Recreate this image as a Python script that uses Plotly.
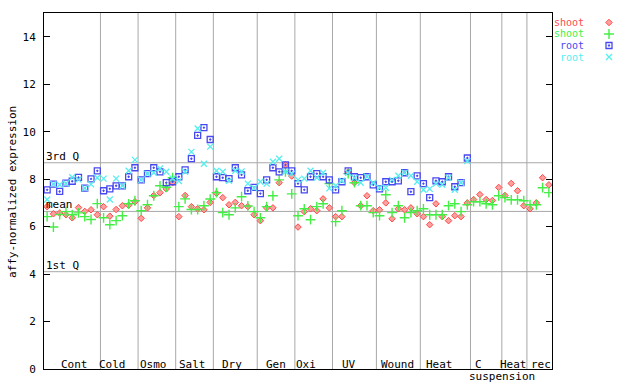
import plotly.graph_objects as go

# ---------------- data ----------------
groups = ["Cont", "Cold", "Osmo", "Salt", "Dry", "Gen", "Oxi", "UV", "Wound", "Heat", "C", "Heat", "rec"]
group_sizes = [9, 6, 6, 6, 7, 6, 6, 7, 7, 8, 5, 4, 4]
sub_label = "suspension"

shoot_red = [
    6.84, 6.54, 6.57, 6.50, 6.37, 6.80, 6.64, 6.71, 6.50,      # Cont
    6.84, 6.44, 6.72, 6.88, 6.90, 7.05,                        # Cold
    6.35, 6.79, 7.31, 7.43, 7.59, 7.85,                        # Osmo
    6.42, 7.31, 6.84, 6.75, 6.71, 7.02,                        # Salt
    7.40, 7.22, 6.92, 7.02, 6.88, 6.84, 6.50,                  # Dry
    6.25, 6.79, 6.79, 7.85, 8.60, 8.13,                        # Gen
    5.98, 6.63, 6.75, 6.67, 7.17, 6.79,                        # Oxi
    6.42, 6.42, 8.31, 7.85, 6.88, 7.30, 6.67,                  # UV
    6.71, 7.00, 6.33, 6.75, 6.71, 6.79, 6.54,                  # Wound
    6.42, 6.08, 6.96, 6.42, 6.25, 6.46, 6.42, 7.00,            # Heat
    7.14, 7.35, 7.14, 7.10, 7.65,                              # C
    7.31, 7.82, 7.51, 6.88,                                    # Heat
    6.75, 7.00, 8.06, 7.76,                                    # rec
]
shoot_green = [
    6.42, 5.98, 6.51, 6.63, 6.50, 6.58, 6.42, 6.30, 6.97,
    6.37, 6.08, 6.25, 6.46, 6.96, 7.09,
    6.67, 6.92, 7.30, 7.72, 7.66, 8.06,
    6.84, 7.17, 6.72, 6.72, 6.88, 7.16,
    7.43, 6.59, 6.50, 6.79, 7.26, 6.87, 6.63,
    6.37, 6.84, 7.30, 7.97, 8.31, 7.38,
    6.46, 6.75, 6.29, 6.84, 6.96, 7.81,
    6.21, 6.67, 8.23, 7.85, 6.88, 6.88, 6.59,
    6.46, 7.34, 6.59, 6.88, 6.37, 6.59, 6.67,
    6.75, 6.50, 6.50, 6.50, 6.88, 6.96, 6.63, 6.92,
    7.05, 7.05, 6.96, 6.92, 7.30,
    7.22, 7.13, 7.13, 7.09,
    6.92, 6.92, 7.64, 7.43,
]
root_blue = [
    7.55, 7.79, 7.48, 7.83, 7.91, 8.07, 7.62, 8.01, 8.35,
    7.51, 7.59, 7.72, 7.72, 8.10, 8.48,
    7.97, 8.23, 8.48, 8.31, 7.85, 7.89,
    8.10, 8.39, 8.86, 9.84, 10.17, 9.67,
    8.10, 8.06, 8.02, 8.48, 8.18, 7.51, 7.65,
    7.39, 7.97, 8.48, 8.31, 8.60, 8.35,
    7.81, 7.55, 8.10, 8.23, 8.10, 7.97,
    7.55, 7.89, 8.35, 8.10, 8.06, 8.10, 7.76,
    7.59, 7.89, 7.89, 7.93, 8.27, 7.47, 8.14,
    7.81, 7.22, 7.93, 7.89, 8.10, 7.68, 7.85, 8.89,
]
root_cyan = [
    7.14, 7.79, 7.76, 7.82, 8.08, 7.98, 7.62, 7.78, 8.06,
    8.02, 7.14, 8.02, 7.72, 8.35, 8.81,
    7.97, 8.23, 8.27, 8.45, 8.31, 8.03,
    7.92, 8.31, 9.15, 10.13, 8.65, 9.37,
    8.35, 8.31, 7.93, 8.35, 8.32, 7.81, 7.63,
    7.89, 7.81, 8.73, 8.86, 8.31, 8.22,
    7.97, 8.02, 8.35, 8.06, 8.27, 7.61,
    7.72, 7.93, 8.27, 8.06, 7.85, 8.10, 7.85,
    7.64, 7.64, 7.97, 8.14, 8.27, 8.14, 7.89,
    7.55, 7.59, 7.81, 7.76, 8.06, 7.55, 7.85, 8.76,
]
stat_names = ["3rd Q", "mean", "1st Q"]
stat_values = [8.69, 6.64, 4.10]
legend_names = ["shoot", "shoot", "root", "root"]
y_ticks = [0, 2, 4, 6, 8, 10, 12, 14]

# ---------------- layout helpers ----------------
W, H = 640, 384
L, R, T, B = 44, 552, 13, 369
n_total = sum(group_sizes)
XMIN, XMAX = 0.5, n_total + 0.5
YMIN, YMAX = 0, 15
FONT = "DejaVu Sans Mono"

label_x = [5.3, 11.5, 17.95, 24.1, 30.5, 37.5, 42.35, 49.2, 56.8, 63.5, 69.7, 75.3, 79.8]
sub_label_x = 73.6

C_RED, C_GREEN, C_BLUE, C_CYAN = "#ff4a4a", "#44ee44", "#4848f0", "#55eeee"
GRID = "#a8a8a8"

styles = [
    dict(symbol="diamond", size=5, color="#ffa0a0", line=dict(color=C_RED, width=1)),
    dict(symbol="cross-thin-open", size=7, color=C_GREEN, line=dict(color=C_GREEN, width=1.4)),
    dict(symbol="square-open-dot", size=6, color=C_BLUE, line=dict(color=C_BLUE, width=1.3)),
    dict(symbol="x-thin-open", size=6, color=C_CYAN, line=dict(color=C_CYAN, width=1.3)),
]
text_colors = [C_RED, C_GREEN, C_BLUE, C_CYAN]

fig = go.Figure()
series = [shoot_red, shoot_green, root_blue, root_cyan]
for vals, st in zip(series, styles):
    fig.add_trace(go.Scatter(
        x=list(range(1, len(vals) + 1)), y=vals, mode="markers",
        marker=st, showlegend=False, hoverinfo="skip", xaxis="x", yaxis="y"))

# legend markers on pixel overlay axis
leg_y = [22.5, 34, 45.5, 57]
for i, st in enumerate(styles):
    fig.add_trace(go.Scatter(x=[609], y=[leg_y[i]], mode="markers", marker=st,
                             showlegend=False, hoverinfo="skip", xaxis="x2", yaxis="y2"))

shapes = []
cum = 0
for s in group_sizes[:-1]:
    cum += s
    shapes.append(dict(type="line", xref="x", yref="y", x0=cum + 0.5, x1=cum + 0.5,
                       y0=YMIN, y1=YMAX, line=dict(color=GRID, width=1), layer="below"))
for v in stat_values:
    shapes.append(dict(type="line", xref="x", yref="y", x0=XMIN, x1=XMAX, y0=v, y1=v,
                       line=dict(color=GRID, width=1), layer="below"))

ann = []
for name, v in zip(stat_names, stat_values):
    ann.append(dict(x=XMIN, y=v, xref="x", yref="y", text=name, showarrow=False,
                    xanchor="left", yanchor="bottom", yshift=-2,
                    font=dict(family=FONT, size=11, color="black")))
for g, lx in zip(groups, label_x):
    ann.append(dict(x=lx, y=1 - 364 / H, xref="x", yref="paper", text=g, showarrow=False,
                    xanchor="center", yanchor="middle",
                    font=dict(family=FONT, size=11, color="black")))
ann.append(dict(x=sub_label_x, y=1 - 376 / H, xref="x", yref="paper", text=sub_label,
                showarrow=False, xanchor="center", yanchor="middle",
                font=dict(family=FONT, size=11, color="black")))
ann.append(dict(x=12 / W, y=1 - 192 / H, xref="paper", yref="paper",
                text="affy-normalized expression", showarrow=False, textangle=-90,
                xanchor="center", yanchor="middle",
                font=dict(family=FONT, size=11, color="black")))
for i, (nm, col) in enumerate(zip(legend_names, text_colors)):
    ann.append(dict(x=586 / W, y=1 - leg_y[i] / H, xref="paper", yref="paper", text=nm,
                    showarrow=False, xanchor="right", yanchor="middle",
                    font=dict(family=FONT, size=10, color=col)))

fig.update_layout(
    width=W, height=H, margin=dict(l=0, r=0, t=0, b=0),
    paper_bgcolor="white", plot_bgcolor="rgba(0,0,0,0)",
    showlegend=False, shapes=shapes, annotations=ann,
    xaxis=dict(domain=[L / W, R / W], range=[XMIN, XMAX], showticklabels=False, ticks="",
               showgrid=False, zeroline=False, showline=True, linecolor="black",
               linewidth=1, mirror=True, anchor="y"),
    yaxis=dict(domain=[1 - B / H, 1 - T / H], range=[YMIN, YMAX], tickvals=y_ticks,
               ticks="inside", ticklen=6, tickcolor="black", showgrid=False, zeroline=False,
               showline=True, linecolor="black", linewidth=1, mirror="ticks",
               tickfont=dict(family=FONT, size=11, color="black"), anchor="x",
               automargin=False, ticklabelstandoff=5),
    xaxis2=dict(domain=[0, 1], range=[0, W], visible=False, anchor="y2", fixedrange=True),
    yaxis2=dict(domain=[0, 1], range=[H, 0], visible=False, anchor="x2", fixedrange=True),
)

fig.write_html("out.html", config={"displayModeBar": False},
               post_script="document.body.style.margin='0px';document.body.style.overflow='hidden';")
